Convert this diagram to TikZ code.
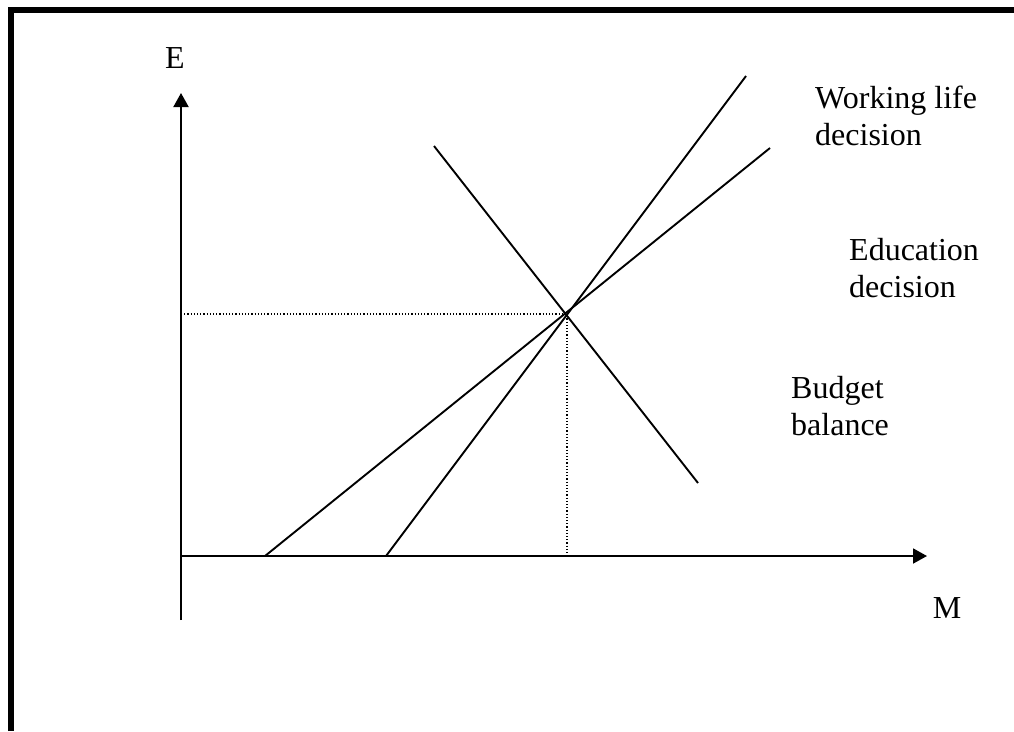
\documentclass[tikz,border=0pt]{standalone}
\usepackage{fontspec}
\setmainfont{Liberation Serif}
\usetikzlibrary{arrows.meta}
\begin{document}
\begin{tikzpicture}[x=1pt,y=-1pt,
  curve/.style={line width=1.9pt},
  axis/.style={line width=1.9pt,-{Triangle[length=14pt,width=15pt]}},
  guide/.style={line width=1.2pt,dash pattern=on 1.2pt off 2pt},
  lbl/.style={font=\fontsize{32}{37}\selectfont,inner sep=0pt,anchor=base west},
  frame/.style={line width=6pt}]
\useasboundingbox (0,0) rectangle (1014,731);
% frame
\draw[frame] (10.5,731) -- (10.5,10) -- (1014,10);
% axes
\coordinate (O) at (181,556);
\coordinate (ybot) at (181,620);
\coordinate (ytop) at (181,93);
\coordinate (xend) at (927,556);
\draw[axis] (ybot) -- (ytop);
\draw[axis] (O) -- (xend);
\node[font=\fontsize{32}{37}\selectfont,inner sep=0pt] (E) at (175,58) {E};
\node[font=\fontsize{32}{37}\selectfont,inner sep=0pt] (M) at (947,608) {M};
% curves
\coordinate (I) at (567,314);
\coordinate (s1) at (386,556);
\coordinate (s2) at (746,76);
\coordinate (w1) at (265,556);
\coordinate (w2) at (770,148);
\coordinate (b1) at (434,146);
\coordinate (b2) at (698,483);
\draw[curve] (s1) -- (s2);
\draw[curve] (w1) -- (w2);
\draw[curve] (b1) -- (b2);
% guides
\coordinate (Iy) at (181,314);
\coordinate (Ix) at (567,556);
\draw[guide] (Iy) -- (I) -- (Ix);
% labels
\node[lbl] (wl1) at (815,108) {Working life};
\node[lbl] (wl2) at (815,145) {decision};
\node[lbl] (ed1) at (849,260) {Education};
\node[lbl] (ed2) at (849,297) {decision};
\node[lbl] (bb1) at (791,398) {Budget};
\node[lbl] (bb2) at (791,435) {balance};
\end{tikzpicture}
\end{document}
